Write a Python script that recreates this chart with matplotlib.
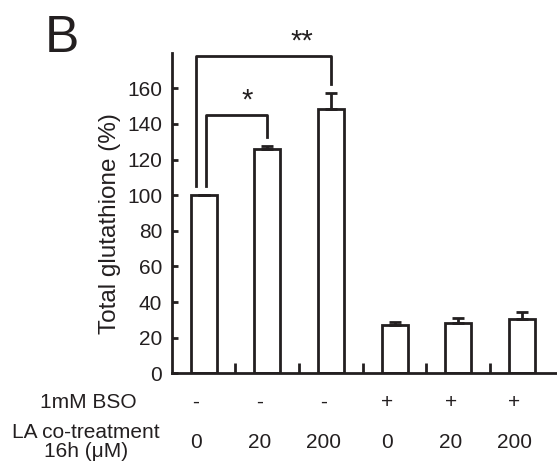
import numpy as np
import matplotlib.pyplot as plt

plt.rcParams["font.family"] = ["Liberation Sans", "DejaVu Sans"]

# data
glutathione = [100, 126, 148.3, 27.1, 28.1, 30.7]   # total glutathione (%)
sem = [0.3, 1.5, 9.3, 1.7, 2.8, 3.7]
bso = ["-", "-", "-", "+", "+", "+"]
la_dose = ["0", "20", "200", "0", "20", "200"]
# significance brackets: (left bar, right bar, label)
brackets = [(0, 1, "*"), (0, 2, "**")]

ink = "#231f20"
x = np.arange(len(glutathione))

fig = plt.figure(figsize=(5.57, 4.66), dpi=100)
ax = fig.add_axes([0.3083, 0.199, 0.6917, 0.688])

ax.bar(x, glutathione, width=0.41, color="white", edgecolor=ink, linewidth=2)
ax.errorbar(x, glutathione, yerr=[np.zeros(len(sem)), sem], fmt="none",
            ecolor=ink, elinewidth=2, capsize=4, capthick=2)

ax.set_xlim(-0.5, 5.55)
ax.set_ylim(0, 180)
ax.set_yticks(np.arange(0, 161, 20))
ax.set_xticks(x[:-1] + 0.5)
ax.set_xticklabels([])
ax.tick_params(axis="y", direction="in", length=4, width=2, pad=7,
               labelsize=15, colors=ink)
ax.tick_params(axis="x", direction="in", length=7, width=2, colors=ink)
for side in ["top", "right"]:
    ax.spines[side].set_visible(False)
for side in ["left", "bottom"]:
    ax.spines[side].set_linewidth(2)
    ax.spines[side].set_color(ink)

ax.set_ylabel("Total glutathione (%)", fontsize=17.5, color=ink)
ax.yaxis.set_label_coords(-0.132, 0.466)

# brackets
left_legs = [0.04, -0.125]
tops = [145, 178]
star_x = [0.68, 1.54]
star_y = [153, 186]
for (i, j, lab), lx, top, sx, sy in zip(brackets, left_legs, tops, star_x, star_y):
    lo = glutathione[i] + 5
    ro = glutathione[j] + sem[j] + 5
    ax.plot([x[i] + lx, x[i] + lx, x[j], x[j]], [lo, top, top, ro],
            color=ink, lw=2, clip_on=False)
    ax.text(sx, sy, lab, ha="center", va="center", fontsize=21, color=ink,
            clip_on=False)

# treatment table under the axis
for xi, b, d in zip(x, bso, la_dose):
    ax.text(xi - 0.12, -16.5, b, ha="center", va="center", fontsize=15,
            color=ink, clip_on=False)
    ax.text(xi - 0.12, -39, d, ha="center", va="center", fontsize=15,
            color=ink, clip_on=False)
fig.text(88 / 557, 1 - 403 / 466, "1mM BSO", ha="center", va="center",
         fontsize=15, color=ink)
fig.text(86 / 557, 1 - 442 / 466, "LA co-treatment\n16h (\u03bcM)", ha="center",
         va="center", fontsize=15, color=ink, linespacing=1.0)

fig.text(45 / 557, 1 - 52 / 466, "B", ha="left", va="baseline", fontsize=37,
         color=ink)

fig.savefig("out.png", dpi=100)
